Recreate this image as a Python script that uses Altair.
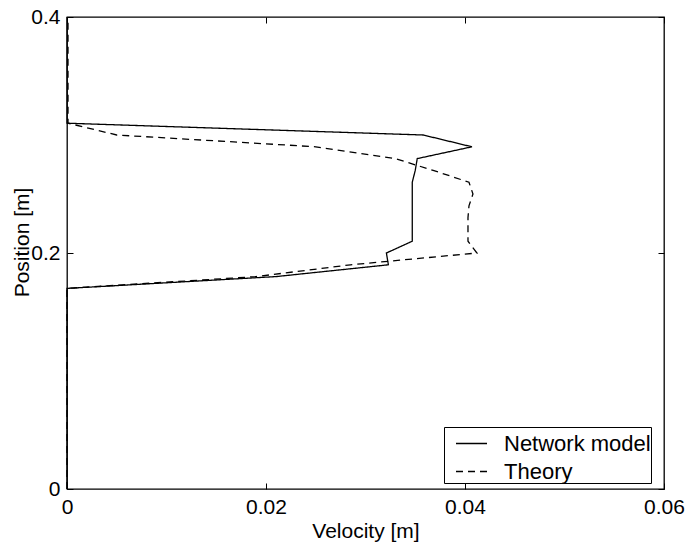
import altair as alt
import pandas as pd

# Network model: position [m] vs velocity
net_pos = [0.0, 0.17, 0.18, 0.19, 0.20, 0.21, 0.22, 0.23, 0.24, 0.25, 0.26, 0.27, 0.28, 0.29, 0.30, 0.31, 0.40]
net_vel = [0.0, 0.0, 0.021, 0.0323, 0.0321, 0.0347, 0.0347, 0.0347, 0.0347, 0.0347, 0.0347, 0.0350, 0.0352, 0.0407, 0.0358, 0.0, 0.0]

# Theory
th_pos = [0.0, 0.17, 0.18, 0.19, 0.20, 0.21, 0.22, 0.23, 0.24, 0.25, 0.26, 0.27, 0.28, 0.29, 0.30, 0.31, 0.32, 0.40]
th_vel = [0.0, 0.0, 0.019, 0.0285, 0.0412, 0.0403, 0.0403, 0.0403, 0.0404, 0.0408, 0.0404, 0.0368, 0.0330, 0.025, 0.005, 0.0001, 0.0001, 0.0001]

series_names = ["Network model", "Theory"]
x_ticks = [0, 0.02, 0.04, 0.06]
y_ticks = [0, 0.2, 0.4]

df = pd.concat([
    pd.DataFrame({"position": net_pos, "velocity": net_vel, "series": series_names[0]}),
    pd.DataFrame({"position": th_pos, "velocity": th_vel, "series": series_names[1]}),
], ignore_index=True)

FONT = "Liberation Sans"
FS = 21

xscale = alt.Scale(domain=[0, 0.06], nice=False, zero=False)
yscale = alt.Scale(domain=[0, 0.4], nice=False, zero=False)

base = alt.Chart(df)

main = base.mark_line(color="black", strokeWidth=1.3).encode(
    x=alt.X("velocity:Q", scale=xscale,
            axis=alt.Axis(values=x_ticks, format="~g", title="Velocity [m]", ticks=False,
                          domain=False, grid=False, labelPadding=7, titlePadding=3,
                          labelFontSize=FS, titleFontSize=FS, labelFont=FONT, titleFont=FONT,
                          titleFontWeight="normal", labelColor="black", titleColor="black",
                          labelFlush=False)),
    y=alt.Y("position:Q", scale=yscale,
            axis=alt.Axis(values=y_ticks, format="~g", title="Position [m]", ticks=False,
                          domain=False, grid=False, labelPadding=7, titlePadding=-2,
                          titleY=225,
                          labelFontSize=FS, titleFontSize=FS, labelFont=FONT, titleFont=FONT,
                          titleFontWeight="normal", labelColor="black", titleColor="black",
                          labelFlush=False)),
    strokeDash=alt.StrokeDash("series:N",
                              scale=alt.Scale(domain=series_names, range=[[1, 0], [7, 5]]),
                              legend=alt.Legend(title=None, orient="none", legendX=377, legendY=410,
                                                strokeColor="black", fillColor="white", padding=0,
                                                symbolType="stroke", symbolSize=961,
                                                symbolStrokeWidth=1.3, symbolStrokeColor="black",
                                                labelFontSize=22, labelFont=FONT, labelColor="black",
                                                labelExpr="datum.label + '\u2003'",
                                                labelLimit=400,
                                                labelOffset=16, symbolOffset=11, rowPadding=-8,
                                                cornerRadius=0)),
    order=alt.Order("position:Q"),
)

def tick_axis(orient, vals):
    return alt.Axis(orient=orient, values=vals, offset=-6, tickSize=6, ticks=True,
                    labels=False, domain=False, grid=False, title=None,
                    tickColor="black", tickWidth=1)

ticks_a = base.mark_line(opacity=0).encode(
    x=alt.X("velocity:Q", scale=xscale, axis=tick_axis("bottom", x_ticks)),
    y=alt.Y("position:Q", scale=yscale, axis=tick_axis("left", y_ticks)),
    detail="series:N",
    order=alt.Order("position:Q"),
)
ticks_b = base.mark_line(opacity=0).encode(
    x=alt.X("velocity:Q", scale=xscale, axis=tick_axis("top", x_ticks)),
    y=alt.Y("position:Q", scale=yscale, axis=tick_axis("right", y_ticks)),
    detail="series:N",
    order=alt.Order("position:Q"),
)

chart = alt.layer(main, ticks_a, ticks_b).resolve_axis(
    x="independent", y="independent"
).properties(
    width=597, height=472,
    autosize=alt.AutoSizeParams(type="none"),
    padding={"left": 67, "top": 17, "right": 25, "bottom": 56},
    background="white",
).configure_view(stroke="black", strokeWidth=1.3)

chart.save("out.html", embed_options={"renderer": "svg", "actions": False})
